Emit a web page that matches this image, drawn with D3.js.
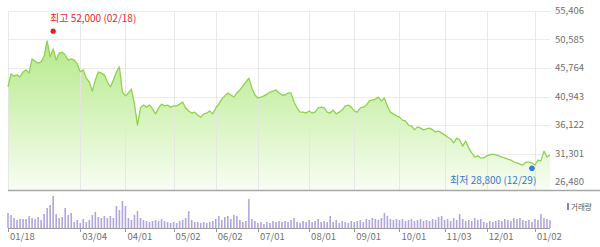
<!DOCTYPE html>
<html><head><meta charset="utf-8">
<script src="https://cdn.jsdelivr.net/npm/d3@7"></script>
<style>html,body{margin:0;padding:0;background:#fff;}svg{display:block;}</style>
</head><body>
<svg id="c" width="600" height="247"></svg>
<script>
const prices = [42550,44750,44400,44600,44250,45100,45450,44900,47300,46950,
46600,46800,47800,50350,47650,49000,47100,48300,48450,47950,
47100,47300,47100,46450,45100,45450,44050,43400,41850,43750,
45100,44900,44600,43400,42550,43750,45100,45950,41700,41050,
41550,42200,39650,36100,39000,39500,39150,39500,38850,38000,
39000,39650,39350,39500,39150,39350,39350,39650,40000,39000,
38500,38150,38300,37800,37450,38000,38150,38500,38000,39000,
39650,40500,41050,41550,41200,40850,41550,42050,42700,43400,
44050,42400,41200,40700,40850,41050,41350,41700,41850,42050,
41550,41200,41200,41550,41550,40000,39000,38300,38300,38150,
38500,38150,38300,39000,39150,39000,38300,38150,38650,38000,
38300,38650,39350,39500,39150,38500,38300,39000,39150,39500,
40200,40350,40500,40850,40200,40700,39350,38300,38000,37650,
37450,36950,36800,36100,35950,35300,35800,35600,35300,35450,
35600,35300,34950,35100,34750,34450,34100,33750,33100,33900,
33600,32550,33400,32250,31400,30700,30900,30550,30550,30900,
31050,31200,31050,30900,30700,30550,30350,30200,29850,29700,
29500,29350,29850,29850,29700,29350,30200,30050,31700,30700,31050];

const volumes = [600,520,400,320,360,360,360,480,400,360,
440,320,560,800,920,1280,560,400,440,800,
520,600,240,320,200,360,240,320,520,640,
440,400,480,400,480,400,880,720,1080,880,
400,320,520,680,400,320,280,240,280,320,
280,360,280,240,200,240,200,280,320,400,
680,320,240,240,200,240,200,240,280,360,
480,320,440,480,360,520,480,320,240,280,
1160,360,280,200,240,160,240,200,280,240,
280,240,280,240,320,400,240,200,280,240,
320,240,280,360,240,280,240,480,240,320,
200,280,240,200,280,240,280,320,240,360,
320,400,360,320,400,600,480,360,320,360,
320,360,280,320,360,280,320,360,280,320,
280,360,320,440,480,320,360,280,400,320,
560,360,280,320,280,400,320,360,240,200,
280,240,280,320,280,360,320,280,400,360,
400,320,280,320,240,360,320,560,400,360,320];

const yTickValues = [26480,31301,36122,40943,45764,50585,55406];
const xTickIndex = [0,24,39,55,69,83,100,115,130,145,159,175];
const xTickLabels = ["01/18","03/04","04/01","05/02","06/02","07/01","08/01","09/01","10/01","11/03","12/01","01/02"];
const highMark = {index:15, value:52000, label:"최고 52,000 (02/18)"};
const lowMark = {index:174, value:28800, label:"최저 28,800 (12/29)"};
const legendLabel = "거래량";

const svg = d3.select("#c");
const font = "'Noto Sans CJK KR','Noto Sans',sans-serif";
const x = d3.scaleLinear().domain([0, prices.length-1]).range([8, 550]);
const y = d3.scaleLinear().domain([26480, 55406]).range([182, 11]);
const v = d3.scaleLinear().domain([0, d3.max(volumes)]).range([228, 196]);
const baseY = 190;

const defs = svg.append("defs");
const g = defs.append("linearGradient").attr("id","fillg")
  .attr("gradientUnits","userSpaceOnUse").attr("x1",0).attr("y1",35).attr("x2",0).attr("y2",baseY);
g.append("stop").attr("offset","0").attr("stop-color","#b3e886");
g.append("stop").attr("offset","0.55").attr("stop-color","#d8f4c0");
g.append("stop").attr("offset","1").attr("stop-color","#f8fdf4");

svg.append("g").selectAll("line").data(yTickValues).join("line")
  .attr("x1",8).attr("x2",550).attr("y1",d=>Math.round(y(d))+0.5).attr("y2",d=>Math.round(y(d))+0.5)
  .attr("stroke","#ececec");

svg.append("path").datum(prices)
  .attr("d", d3.area().x((d,i)=>x(i)).y0(baseY).y1(d=>y(d)))
  .attr("fill","url(#fillg)");

svg.append("g").selectAll("line").data(xTickIndex).join("line")
  .attr("x1",d=>Math.round(x(d))+0.5).attr("x2",d=>Math.round(x(d))+0.5)
  .attr("y1",11).attr("y2",baseY).attr("stroke","#e4e4e4").attr("stroke-opacity",0.85);

svg.append("path").datum(prices)
  .attr("d", d3.line().x((d,i)=>x(i)).y(d=>y(d)))
  .attr("fill","none").attr("stroke","#8fd24e").attr("stroke-width",1.3).attr("stroke-linejoin","round");

svg.append("line").attr("x1",8).attr("x2",600).attr("y1",baseY+0.5).attr("y2",baseY+0.5)
  .attr("stroke","#a8a8a8").attr("stroke-width",1.5);

svg.append("g").selectAll("text").data(yTickValues).join("text")
  .attr("x",555).attr("y",d=>y(d)).attr("dy","0.35em")
  .attr("font-family",font).attr("font-size",9.5).attr("fill","#707070")
  .text(d=>d3.format(",")(d));

svg.append("g").selectAll("rect").data(volumes).join("rect")
  .attr("x",(d,i)=>x(i)-0.8).attr("width",1.6)
  .attr("y",d=>v(d)).attr("height",d=>228-v(d))
  .attr("fill","#b2a5de");

svg.append("line").attr("x1",8).attr("x2",550).attr("y1",228.5).attr("y2",228.5)
  .attr("stroke","#9a9a9a");
svg.append("g").selectAll("line").data(xTickIndex).join("line")
  .attr("x1",d=>Math.round(x(d))+0.5).attr("x2",d=>Math.round(x(d))+0.5)
  .attr("y1",228).attr("y2",232).attr("stroke","#9a9a9a");

svg.append("g").selectAll("text").data(xTickIndex).join("text")
  .attr("x",d=>x(d)+2).attr("y",237).attr("dy","0.35em")
  .attr("font-family",font).attr("font-size",9.5).attr("fill","#707070")
  .text((d,i)=>xTickLabels[i]);

svg.append("rect").attr("x",567).attr("y",203).attr("width",2).attr("height",7).attr("fill","#8a7cc8");
svg.append("text").attr("x",571).attr("y",207).attr("dy","0.35em")
  .attr("font-family",font).attr("font-size",7.5).attr("fill","#555").text(legendLabel);

svg.append("circle").attr("cx",x(highMark.index)).attr("cy",y(highMark.value)).attr("r",2.6).attr("fill","#f01c1c");
svg.append("text").attr("x",50).attr("y",18).attr("dy","0.35em")
  .attr("font-family",font).attr("font-size",10).attr("fill","#e8282b").text(highMark.label);
svg.append("circle").attr("cx",x(lowMark.index)).attr("cy",y(lowMark.value)).attr("r",2.8).attr("fill","#2f7fe0");
svg.append("text").attr("x",450).attr("y",180).attr("dy","0.35em")
  .attr("font-family",font).attr("font-size",10).attr("fill","#3a78cf").text(lowMark.label);
</script>
</body></html>
